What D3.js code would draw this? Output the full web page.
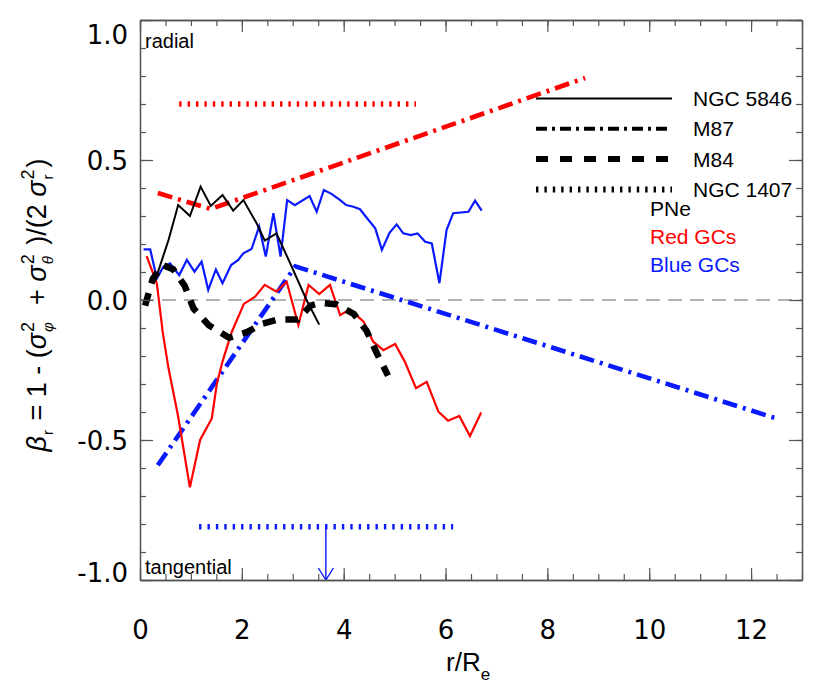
<!DOCTYPE html>
<html><head><meta charset="utf-8">
<script src="https://cdn.jsdelivr.net/npm/d3@7"></script>
<style>
body{margin:0;background:#fff;}
svg{display:block;}
text{font-family:"Liberation Sans",Arial,sans-serif;}
.tick text{font-family:"DejaVu Sans",sans-serif;}
</style></head>
<body><svg id="c" width="830" height="697"></svg>
<script>
// ---------------- DATA ----------------
// NGC 5846 PNe (black solid)
const pneR = [0.29,0.56,0.75,0.98,1.19,1.39,1.62,1.83,2.03,2.29,2.45,2.68,2.95,3.27,3.52];
const pneB = [0.065,0.214,0.339,0.30,0.405,0.336,0.375,0.319,0.357,0.274,0.212,0.238,0.131,0.0,-0.088];
// NGC 1407 red GCs (red solid)
const redR = [0.13,0.33,0.45,0.56,0.75,0.98,1.18,1.41,1.51,1.62,1.8,2.04,2.26,2.45,2.68,2.88,3.11,3.31,3.52,3.73,3.93,4.12,4.39,4.58,4.78,5.01,5.20,5.42,5.63,5.86,6.05,6.27,6.48,6.70];
const redB = [0.157,0.06,-0.12,-0.244,-0.417,-0.669,-0.5,-0.423,-0.298,-0.22,-0.115,-0.014,0.012,0.054,0.03,0.065,-0.089,0.054,0.021,0.054,-0.054,-0.033,-0.077,-0.149,-0.179,-0.157,-0.22,-0.315,-0.292,-0.399,-0.431,-0.414,-0.486,-0.402];
// NGC 1407 blue GCs (blue solid)
const blueR = [0.07,0.2,0.33,0.46,0.59,0.77,0.92,1.07,1.21,1.34,1.49,1.62,1.79,1.93,2.03,2.19,2.34,2.47,2.62,2.76,2.89,3.04,3.33,3.47,3.61,3.76,3.93,4.05,4.19,4.32,4.46,4.62,4.75,4.90,5.04,5.17,5.32,5.45,5.60,5.73,5.88,6.02,6.15,6.45,6.58,6.71];
const blueB = [0.181,0.181,0.077,0.119,0.131,0.089,0.143,0.101,0.137,0.036,0.109,0.06,0.125,0.143,0.167,0.182,0.262,0.155,0.31,0.155,0.357,0.339,0.371,0.315,0.393,0.379,0.357,0.339,0.333,0.324,0.292,0.256,0.179,0.24,0.27,0.238,0.232,0.238,0.208,0.202,0.06,0.25,0.31,0.315,0.355,0.319];
// M84 (black thick dashed)
const m84R = [0.1,0.25,0.45,0.65,0.88,1.05,1.35,1.75,2.1,2.4,2.7,3.1,3.35,3.55,3.85,4.2,4.45,4.65,4.87];
const m84B = [-0.02,0.075,0.125,0.11,0.05,-0.03,-0.09,-0.135,-0.115,-0.085,-0.07,-0.07,-0.02,-0.01,-0.015,-0.05,-0.11,-0.19,-0.27];
// M87 red GCs (red dash-dot)
const m87RedR = [0.35,1.39,8.74];
const m87RedB = [0.382,0.325,0.793];
// M87 blue GCs (blue dash-dot)
const m87BlueR = [0.35,3.05,12.53];
const m87BlueB = [-0.59,0.12,-0.425];
// NGC 1407 dotted lines: [r start, r end], beta
const n1407RedR = [0.77,5.42];
const n1407RedB = 0.70;
const n1407BlueR = [1.16,6.15];
const n1407BlueB = -0.81;
const arrowR = 3.65;
// axes
const xTicks = [0,2,4,6,8,10,12];
const yTicks = [-1.0,-0.5,0.0,0.5,1.0];
const legendNames = ["NGC 5846","M87","M84","NGC 1407"];
const sampleNames = ["PNe","Red GCs","Blue GCs"];

// ---------------- CHART ----------------
const svg = d3.select("#c");
const x = d3.scaleLinear().domain([0,13]).range([140,802]);
const y = d3.scaleLinear().domain([-1,1]).range([580,20]);
const AX = "#555";

const zip = (a,b)=>a.map((v,i)=>[v,b[i]]);
const line = d3.line().x(d=>x(d[0])).y(d=>y(d[1]));

// zero line
svg.append("line").attr("x1",x(0)).attr("x2",x(13)).attr("y1",y(0)).attr("y2",y(0))
  .attr("stroke","#666").attr("stroke-width",1).attr("stroke-dasharray","14,8");

// dotted lines NGC 1407
svg.append("line").attr("x1",x(n1407RedR[0])).attr("x2",x(n1407RedR[1]))
  .attr("y1",y(n1407RedB)).attr("y2",y(n1407RedB))
  .attr("stroke","#ff0000").attr("stroke-width",5.5).attr("stroke-dasharray","2.4,6");
svg.append("line").attr("x1",x(n1407BlueR[0])).attr("x2",x(n1407BlueR[1]))
  .attr("y1",y(n1407BlueB)).attr("y2",y(n1407BlueB))
  .attr("stroke","#0a1aff").attr("stroke-width",5.5).attr("stroke-dasharray","2.4,6");
// arrow
svg.append("line").attr("x1",x(arrowR)).attr("x2",x(arrowR)).attr("y1",y(n1407BlueB)).attr("y2",y(-1))
  .attr("stroke","#0a1aff").attr("stroke-width",1.4);
svg.append("path").attr("d",`M${x(arrowR)-7.5},${y(-1)-12}L${x(arrowR)},${y(-1)}L${x(arrowR)+7.5},${y(-1)-12}`)
  .attr("fill","none").attr("stroke","#0a1aff").attr("stroke-width",1.4);

// M87 dash-dot
svg.append("path").attr("d",line(zip(m87RedR,m87RedB))).attr("fill","none")
  .attr("stroke","#ff0000").attr("stroke-width",4.6).attr("stroke-dasharray","15,6,3,6");
svg.append("path").attr("d",line(zip(m87BlueR,m87BlueB))).attr("fill","none")
  .attr("stroke","#0a1aff").attr("stroke-width",4.6).attr("stroke-dasharray","15,6,3,6");

// solid lines
svg.append("path").attr("d",line(zip(blueR,blueB))).attr("fill","none")
  .attr("stroke","#0a1aff").attr("stroke-width",2.2).attr("stroke-linejoin","miter");
svg.append("path").attr("d",line(zip(redR,redB))).attr("fill","none")
  .attr("stroke","#ff0000").attr("stroke-width",2.2);
svg.append("path").attr("d",line(zip(pneR,pneB))).attr("fill","none")
  .attr("stroke","#000").attr("stroke-width",2);
// M84 dashed
svg.append("path").attr("d",line(zip(m84R,m84B))).attr("fill","none")
  .attr("stroke","#000").attr("stroke-width",6.5).attr("stroke-dasharray","13,10");

// axes
function styleAxis(g){
  g.selectAll(".domain").attr("stroke",AX).attr("stroke-width",1.3);
  g.selectAll(".tick line").attr("stroke",AX).attr("stroke-width",1.2);
}
const xMinor = d3.range(0,13.01,0.5);
const yMinor = d3.range(-1,1.001,0.1);
// bottom
svg.append("g").attr("transform",`translate(0,${y(-1)})`)
  .call(d3.axisBottom(x).tickValues(xMinor).tickSize(-6).tickSizeOuter(0).tickFormat(""))
  .call(styleAxis);
const gxb = svg.append("g").attr("transform",`translate(0,${y(-1)})`)
  .call(d3.axisBottom(x).tickValues(xTicks).tickSize(-12).tickSizeOuter(0).tickPadding(41).tickFormat(d3.format("d")))
  .call(styleAxis);
gxb.selectAll("text").attr("font-size",26).attr("fill","#000");
// top
svg.append("g").attr("transform",`translate(0,${y(1)})`)
  .call(d3.axisTop(x).tickValues(xMinor).tickSize(-6).tickSizeOuter(0).tickFormat("")).call(styleAxis);
svg.append("g").attr("transform",`translate(0,${y(1)})`)
  .call(d3.axisTop(x).tickValues(xTicks).tickSize(-12).tickSizeOuter(0).tickFormat("")).call(styleAxis);
// left
svg.append("g").attr("transform",`translate(${x(0)},0)`)
  .call(d3.axisLeft(y).tickValues(yMinor).tickSize(-6).tickSizeOuter(0).tickFormat("")).call(styleAxis);
const gyl = svg.append("g").attr("transform",`translate(${x(0)},0)`)
  .call(d3.axisLeft(y).tickValues(yTicks).tickSize(-13).tickSizeOuter(0).tickPadding(12).tickFormat(d3.format(".1f")))
  .call(styleAxis);
gyl.selectAll("text").attr("font-size",26).attr("fill","#000")
  .attr("dy",d=> d===1 ? "0.9em" : d===-1 ? "0.05em" : "0.35em")
  .text(d=>d3.format(".1f")(d).replace("−","-"));
// right
svg.append("g").attr("transform",`translate(${x(13)},0)`)
  .call(d3.axisRight(y).tickValues(yMinor).tickSize(-6).tickSizeOuter(0).tickFormat("")).call(styleAxis);
svg.append("g").attr("transform",`translate(${x(13)},0)`)
  .call(d3.axisRight(y).tickValues(yTicks).tickSize(-13).tickSizeOuter(0).tickFormat("")).call(styleAxis);

// radial / tangential
svg.append("text").attr("x",x(0)+5).attr("y",y(1)+28).attr("font-size",20).text("radial");
svg.append("text").attr("x",x(0)+5).attr("y",y(-1)-6).attr("font-size",20).text("tangential");

// legend
const lgX1 = 536, lgX2 = 672, lgY0 = 98.5, lgDy = 30.3;
const lgStyles = [
  {w:2, dash:null},
  {w:4, dash:"11,5,3,5"},
  {w:6, dash:"12,12"},
  {w:6, dash:"2.4,6"}
];
legendNames.forEach((n,i)=>{
  const yy = lgY0 + i*lgDy;
  const l = svg.append("line").attr("x1",lgX1).attr("x2",lgX2).attr("y1",yy).attr("y2",yy)
    .attr("stroke","#000").attr("stroke-width",lgStyles[i].w);
  if(lgStyles[i].dash) l.attr("stroke-dasharray",lgStyles[i].dash);
  svg.append("text").attr("x",693).attr("y",yy+7.5).attr("font-size",21).text(n);
});
const sampleColors = ["#000","#ff0000","#0a1aff"];
sampleNames.forEach((n,i)=>{
  svg.append("text").attr("x",650).attr("y",216+i*28).attr("font-size",21)
    .attr("fill",sampleColors[i]).text(n);
});

// x title
const xt = svg.append("text").attr("x",446).attr("y",671).attr("font-size",26);
xt.append("tspan").text("r/R");
xt.append("tspan").attr("font-size",17).attr("dy",9).text("e");

// y title with stacked sup/sub
const fs = 27, fsS = 18;
const tg = svg.append("g");
const parts = [
  {t:"β", it:true},
  {sub:"r"},
  {t:" = 1 - ("},
  {t:"σ", it:true},
  {sup:"2", sub:"φ"},
  {t:"  + "},
  {t:"σ", it:true},
  {sup:"2", sub:"θ"},
  {t:" )/(2 "},
  {t:"σ", it:true},
  {sup:"2", sub:"r"},
  {t:")"}
];
let cx = 0;
parts.forEach(p=>{
  if(p.t!==undefined){
    const t = tg.append("text").attr("x",cx).attr("y",0).attr("font-size",fs)
      .style("white-space","pre").text(p.t);
    if(p.it) t.attr("font-style","italic").attr("font-family","DejaVu Sans");
    cx += t.node().getComputedTextLength();
  } else {
    let w = 0;
    if(p.sup){ const t = tg.append("text").attr("x",cx+1).attr("y",-12).attr("font-size",fsS).text(p.sup);
      w = Math.max(w,t.node().getComputedTextLength()); }
    if(p.sub){ const t = tg.append("text").attr("x",cx+1).attr("y",7).attr("font-size",fsS-3)
      .attr("font-style",p.sub==="r"?null:"italic").text(p.sub);
      w = Math.max(w,t.node().getComputedTextLength()); }
    cx += w+3;
  }
});
tg.attr("transform",`translate(46,${305+cx/2}) rotate(-90)`);
</script></body></html>
